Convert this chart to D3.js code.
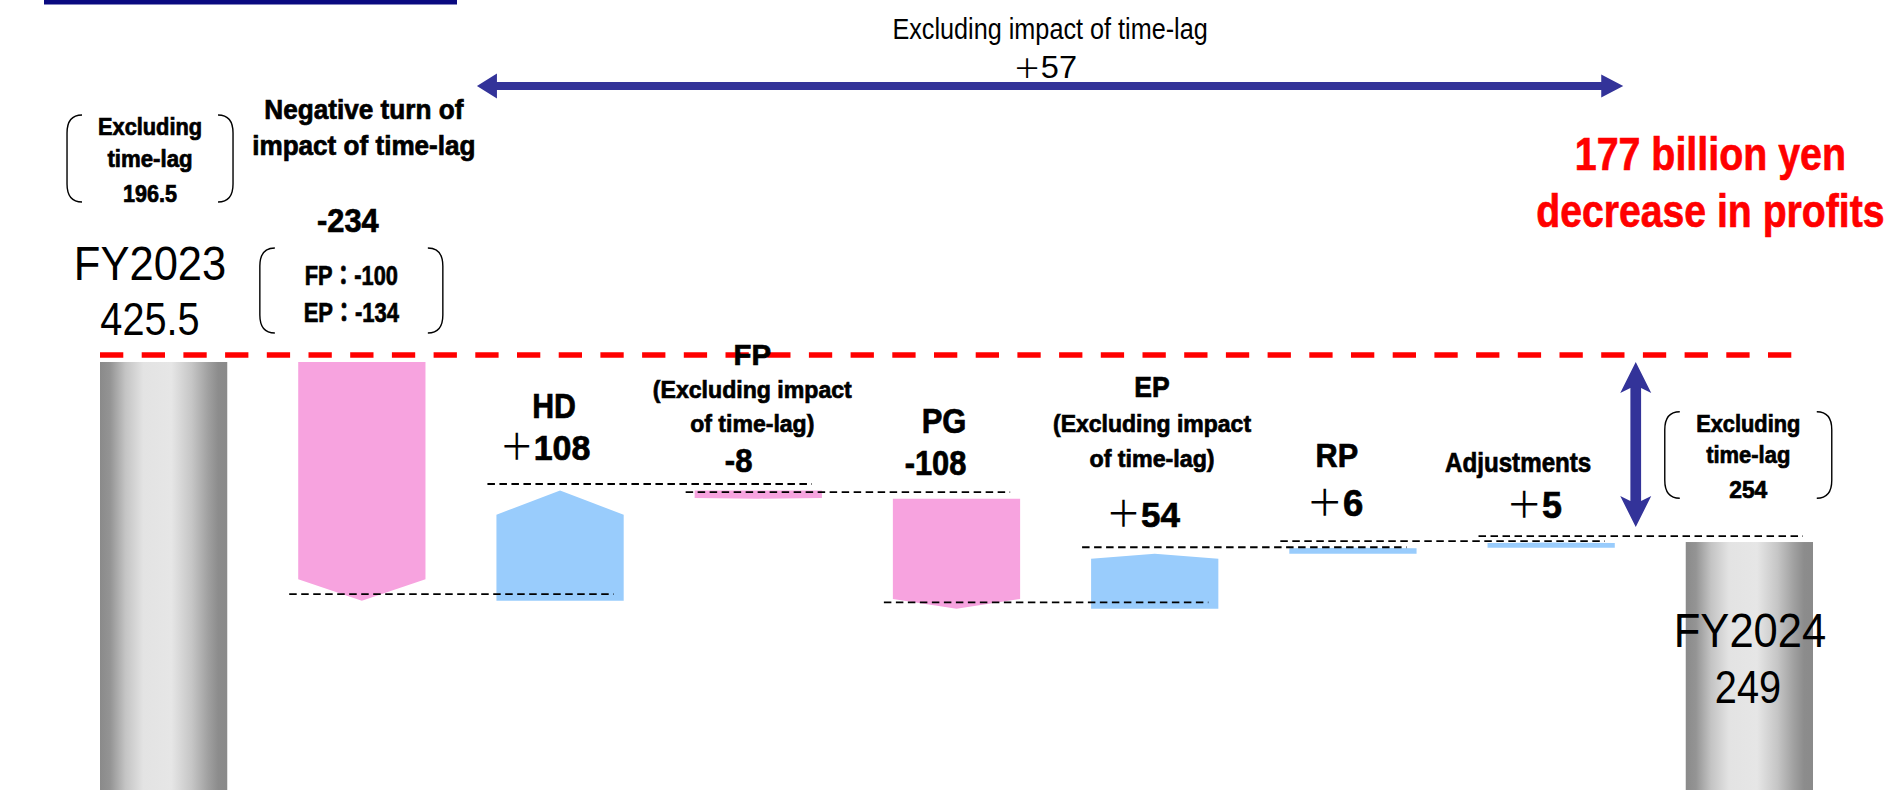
<!DOCTYPE html>
<html>
<head>
<meta charset="utf-8">
<script src="https://cdn.jsdelivr.net/npm/d3@7"></script>
<style>
  html, body { margin: 0; padding: 0; background: #fff; overflow: hidden; }
  svg { display: block; }
  text { font-family: "Liberation Sans", Arial, "Noto Sans CJK JP", sans-serif; }
</style>
</head>
<body>
<svg id="chart" width="1904" height="790"></svg>
<script>
// Consolidated profit bridge FY2023 -> FY2024 (billion yen)
const categories = ["FY2023", "TimeLag", "HD", "FP", "PG", "EP", "RP", "Adjustments", "FY2024"];
const kinds = ["total", "delta", "delta", "delta", "delta", "delta", "delta", "delta", "total"];
const values = [425.5, -234, 108, -8, -108, 54, 6, 5, 249];
const valueLabels = ["425.5", "-234", "＋108", "-8", "-108", "＋54", "＋6", "＋5", "249"];
const headerLines = [
  ["FY2023"],
  ["Negative turn of", "impact of time-lag"],
  ["HD"],
  ["FP", "(Excluding impact", "of time-lag)"],
  ["PG"],
  ["EP", "(Excluding impact", "of time-lag)"],
  ["RP"],
  ["Adjustments"],
  ["FY2024"]
];
const excludingTimeLag = [196.5, 254];          // FY2023, FY2024 excluding time-lag
const timeLagBreakdown = [["FP", -100], ["EP", -134]];
const changeExcludingTimeLag = 57;
const profitDecrease = 177;

// ---- layout / style ----
const W = 1904, H = 790;
const pink = "#f7a3df", blue = "#99ccfc", navy = "#333399", red = "#ff0000";
const tipRatio = [0, 0.09, 0.22, 0.09, 0.09, 0.09, 0.09, 0.09, 0];

const headerLayout = [
  { dx: -13.6, lines: [{ y: 280, fs: 49, w: 150, bold: false }] },
  { dx: 2, lines: [{ y: 119, fs: 27, w: 198 }, { y: 155, fs: 27, w: 222 }] },
  { dx: -6, lines: [{ y: 418, fs: 35, w: 42 }] },
  { dx: -6, lines: [{ y: 365, fs: 30, w: 36 }, { y: 398.3, fs: 24, w: 198 }, { y: 431.7, fs: 24, w: 123 }] },
  { dx: -12.5, lines: [{ y: 433, fs: 35, w: 43 }] },
  { dx: -2.7, lines: [{ y: 396.7, fs: 29, w: 34 }, { y: 431.7, fs: 24, w: 197 }, { y: 466.7, fs: 24, w: 124 }] },
  { dx: -16, lines: [{ y: 467, fs: 33, w: 41 }] },
  { dx: -33, lines: [{ y: 471.7, fs: 28, w: 145 }] },
  { dx: 0.6, lines: [{ y: 646.7, fs: 49, w: 150, bold: false }] }
];
const valueLayout = [
  { dx: -13.6, y: 335, fs: 47, w: 97, bold: false },
  { dx: -14, y: 231.7, fs: 33, w: 60 },
  { dx: -15, y: 460, fs: 36, w: 84 },
  { dx: -19.6, y: 472, fs: 33, w: 26 },
  { dx: -21, y: 475, fs: 35, w: 60 },
  { dx: -11.7, y: 527, fs: 36, w: 67 },
  { dx: -18, y: 516, fs: 36, w: 50 },
  { dx: -17, y: 518, fs: 36, w: 49 },
  { dx: -1.4, y: 703.3, fs: 47, w: 64, bold: false }
];

const svg = d3.select("#chart");
svg.append("rect").attr("width", W).attr("height", H).attr("fill", "#fff");

// Scales
const x = d3.scaleBand().domain(categories).range([100, 1813]).paddingInner(0.358).paddingOuter(0);
const y = d3.scaleLinear().domain([0, 425.5]).range([796, 362]);
const bw = x.bandwidth();
const cx = c => x(c) + bw / 2;

// Running levels of the bridge
const starts = [], ends = [];
let level = 0;
values.forEach((v, i) => {
  if (kinds[i] === "total") { starts.push(0); ends.push(v); level = v; }
  else { starts.push(level); level += v; ends.push(level); }
});

// Cylinder shading for the total columns
const defs = svg.append("defs");
const grad = defs.append("linearGradient").attr("id", "cyl").attr("x1", 0).attr("x2", 1).attr("y1", 0).attr("y2", 0);
[[0, "#8a8a8a"], [0.08, "#949494"], [0.2, "#c4c4c4"], [0.34, "#e3e3e3"], [0.56, "#e6e6e6"],
 [0.72, "#c6c6c6"], [0.85, "#a0a0a0"], [0.93, "#8c8c8c"], [1, "#8a8a8a"]]
  .forEach(([o, c]) => grad.append("stop").attr("offset", o).attr("stop-color", c));

// Title bar remnant
svg.append("rect").attr("x", 44).attr("y", -10).attr("width", 413).attr("height", 14.5).attr("fill", "#0a0a80");

// Total columns
const idx = categories.map((c, i) => i);
svg.selectAll("rect.total").data(idx.filter(i => kinds[i] === "total")).join("rect")
  .attr("class", "total")
  .attr("x", i => x(categories[i])).attr("width", bw)
  .attr("y", i => y(values[i])).attr("height", i => y(0) - y(values[i]))
  .attr("fill", "url(#cyl)");

// Delta columns as arrow-shaped pentagons
function arrowPoints(i) {
  const x0 = x(categories[i]), x1 = x0 + bw, xm = x0 + bw / 2;
  const a = y(starts[i]), b = y(ends[i]);
  const tip = Math.abs(b - a) * tipRatio[i];
  if (values[i] < 0) {  // pointing down: a is top, b is tip
    return [[x0, a], [x1, a], [x1, b - tip], [xm, b], [x0, b - tip]];
  }
  return [[x0, a], [x1, a], [x1, b + tip], [xm, b], [x0, b + tip]];
}
svg.selectAll("polygon.delta").data(idx.filter(i => kinds[i] === "delta")).join("polygon")
  .attr("class", "delta")
  .attr("points", i => arrowPoints(i).map(p => p.join(",")).join(" "))
  .attr("fill", i => values[i] < 0 ? pink : blue);

// Dashed connectors between consecutive steps
svg.selectAll("line.conn").data(idx.filter(i => kinds[i] === "delta")).join("line")
  .attr("class", "conn")
  .attr("x1", i => x(categories[i]) - 9)
  .attr("x2", i => x(categories[i + 1]) + bw - 10)
  .attr("y1", i => y(ends[i]) - 6.5).attr("y2", i => y(ends[i]) - 6.5)
  .attr("stroke", "#000").attr("stroke-width", 1.8).attr("stroke-dasharray", "7.5,4.5");

// Red reference line at the FY2023 level
svg.append("line")
  .attr("x1", x("FY2023")).attr("x2", x("FY2024") + bw - 9)
  .attr("y1", y(values[0]) - 7).attr("y2", y(values[0]) - 7)
  .attr("stroke", red).attr("stroke-width", 5.5).attr("stroke-dasharray", "23.3,18.4");

// Vertical double arrow: overall decrease
const vx = x("FY2024") - 50;
const vTop = y(values[0]), vBot = y(values[8]) - 15;
const hw = 15.5, sw = 5.35, hl = 31, notch = 26;
svg.append("path").attr("fill", navy).attr("d",
  `M${vx},${vTop} L${vx + hw},${vTop + hl} L${vx + sw},${vTop + notch} L${vx + sw},${vBot - notch}
   L${vx + hw},${vBot - hl} L${vx},${vBot} L${vx - hw},${vBot - hl} L${vx - sw},${vBot - notch}
   L${vx - sw},${vTop + notch} L${vx - hw},${vTop + hl} Z`);

// Horizontal double arrow: change excluding time-lag
const hx0 = x("HD") - 19.5, hx1 = vx - 12.5, hy = 86;
svg.append("path").attr("fill", navy).attr("d",
  `M${hx0},${hy} L${hx0 + 20},${hy - 12.5} L${hx0 + 20},${hy - 4} L${hx1 - 22},${hy - 4}
   L${hx1 - 22},${hy - 11.5} L${hx1},${hy} L${hx1 - 22},${hy + 11.5} L${hx1 - 22},${hy + 4}
   L${hx0 + 20},${hy + 4} L${hx0 + 20},${hy + 12.5} Z`);

// Round brackets
function bracket(xa, xb, ya, yb) {
  const r = 15, v = 18;
  const p = `M${xa + r},${ya} Q${xa},${ya} ${xa},${ya + v} L${xa},${yb - v} Q${xa},${yb} ${xa + r},${yb}
             M${xb - r},${ya} Q${xb},${ya} ${xb},${ya + v} L${xb},${yb - v} Q${xb},${yb} ${xb - r},${yb}`;
  svg.append("path").attr("d", p).attr("fill", "none").attr("stroke", "#000").attr("stroke-width", 1.4);
}

// Text helper: centred line, squeezed horizontally to the given ink width
function label(t, px, py, fs, w, bold = true, fill = "#000", plusScale = 1) {
  const el = svg.append("text").attr("text-anchor", "middle")
    .attr("font-size", fs).attr("font-weight", bold ? 700 : 400).attr("fill", fill);
  let extra = 0.05 * fs;
  let body;
  if (t.startsWith("＋")) {
    el.append("tspan").attr("font-weight", 400).attr("font-size", fs * plusScale)
      .style("font-family", '"Noto Sans CJK JP", sans-serif').text("＋");
    body = el.append("tspan").text(t.slice(1));
    extra += 0.14 * fs;
  } else {
    body = el;
    el.text(t);
  }
  if (bold) body.attr("stroke", fill).attr("stroke-width", 0.7);
  const len = el.node().getComputedTextLength();
  const sx = w ? (w + extra) / len : 1;
  el.attr("transform", `translate(${px},${py}) scale(${sx},1)`);
  return el;
}

// Column headers and value labels
categories.forEach((c, i) => {
  const hl = headerLayout[i];
  headerLines[i].forEach((t, k) => {
    const L = hl.lines[k];
    label(t, cx(c) + hl.dx, L.y, L.fs, L.w, L.bold !== false);
  });
  const vl = valueLayout[i];
  label(valueLabels[i], cx(c) + vl.dx, vl.y, vl.fs, vl.w, vl.bold !== false);
});

// Excluding time-lag notes for both years
const b1 = cx("FY2023") - 13.6;
bracket(b1 - 83, b1 + 83, 115, 202);
label("Excluding", b1, 135, 23, 103);
label("time-lag", b1, 166.7, 23, 84);
label(String(excludingTimeLag[0]), b1, 201.7, 23, 53);

const b3 = cx("FY2024") - 1.1;
bracket(b3 - 83.5, b3 + 83.5, 411.7, 498.3);
label("Excluding", b3, 431.7, 23, 103);
label("time-lag", b3, 463.3, 23, 83);
label(String(excludingTimeLag[1]), b3, 498.3, 23, 37);

// Time-lag breakdown
const b2 = cx("TimeLag") - 10.5;
bracket(b2 - 91.5, b2 + 91.5, 248, 333);
const fmt = v => (v < 0 ? "-" : "＋") + Math.abs(v);
label(`${timeLagBreakdown[0][0]}：${fmt(timeLagBreakdown[0][1])}`, b2, 285, 27, 92);
label(`${timeLagBreakdown[1][0]}：${fmt(timeLagBreakdown[1][1])}`, b2, 321.7, 27, 94);

// Change excluding time-lag, above the horizontal arrow
const hmid = (hx0 + hx1) / 2;
label("Excluding impact of time-lag", hmid, 38.5, 30, 314, false);
label("＋" + changeExcludingTimeLag, hmid - 5, 78, 31, 58, false, "#000", 0.85);

// Headline
const rx = cx("FY2024") - 39;
label(`${profitDecrease} billion yen`, rx, 170, 47, 269, true, red);
label("decrease in profits", rx, 226.7, 47, 346, true, red);
</script>
</body>
</html>
